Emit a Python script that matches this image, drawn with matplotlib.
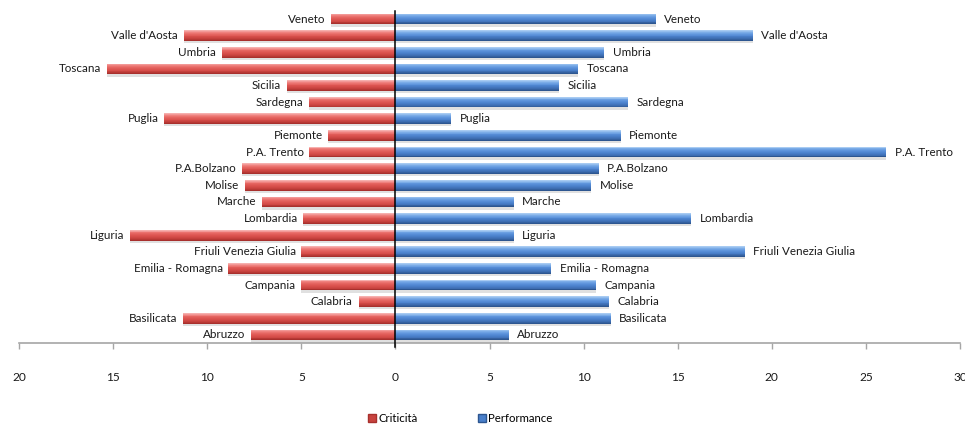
import matplotlib
matplotlib.use("Agg")
import matplotlib.pyplot as plt
import numpy as np
from matplotlib.patches import Patch
from matplotlib.colors import to_rgb

plt.rcParams['font.family'] = ['Lato', 'DejaVu Sans']

regions = ["Abruzzo", "Basilicata", "Calabria", "Campania", "Emilia - Romagna",
           "Friuli Venezia Giulia", "Liguria", "Lombardia", "Marche", "Molise",
           "P.A.Bolzano", "P.A. Trento", "Piemonte", "Puglia", "Sardegna",
           "Sicilia", "Toscana", "Umbria", "Valle d'Aosta", "Veneto"]
criticita = [7.66, 11.27, 1.96, 4.99, 8.88, 4.99, 14.09, 4.89, 7.07, 8.01,
             8.15, 4.57, 3.56, 12.28, 4.57, 5.76, 15.31, 9.22, 11.25, 3.40]
performance = [6.03, 11.45, 11.35, 10.66, 8.27, 18.55, 6.28, 15.73, 6.28, 10.4,
               10.8, 26.07, 11.97, 2.96, 12.35, 8.71, 9.7, 11.1, 19.0, 13.84]
xticks = [-20, -15, -10, -5, 0, 5, 10, 15, 20, 25, 30]
series_names = ["Criticità", "Performance"]

fig = plt.figure(figsize=(9.65, 4.28), dpi=100)
ax = fig.add_axes([19/965, 1-343.3/428, 941/965, (343.3-10.7)/428])

y = np.arange(len(regions))
h = 0.64
left_vals = -np.array(criticita)
right_vals = np.array(performance)

red_stops = ["#F6B0AE", "#EE7C79", "#E3605C", "#D9504C", "#C8433F", "#A8302D"]
blue_stops = ["#A8CBF2", "#77A9E6", "#5A91DA", "#4A80CB", "#3F6FB4", "#2D5690"]

def interp(stops, n):
    cols = np.array([to_rgb(c) for c in stops])
    pos = np.linspace(0, 1, len(stops))
    t = np.linspace(0, 1, n)
    return [tuple(np.interp(tt, pos, cols[:, k]) for k in range(3)) for tt in t]

N = 12
# soft shadows
ax.barh(y - 0.14, left_vals, height=h, color="#E0E0E0", zorder=1)
ax.barh(y - 0.14, right_vals, height=h, color="#E0E0E0", zorder=1)
for vals, stops in ((left_vals, red_stops), (right_vals, blue_stops)):
    cols = interp(stops, N)
    for k in range(N):
        bottom = y + h/2 - (k+1)*h/N
        ax.barh(bottom, vals, height=h/N + 0.005, align='edge',
                color=cols[k], linewidth=0, zorder=2)

for yi, c, p, name in zip(y, criticita, performance, regions):
    ax.text(-c - 0.3, yi, name, ha='right', va='center', fontsize=8.4, color='#1a1a1a')
    ax.text(p + 0.45, yi, name, ha='left', va='center', fontsize=8.4, color='#1a1a1a')

ax.axvline(0, ymin=-0.012, ymax=1, color='black', lw=1.1, zorder=4, clip_on=False)

ax.set_xlim(-20, 30)
ax.set_ylim(-0.5, 19.5)
ax.set_xticks(xticks)
ax.set_xticklabels([str(abs(t)) for t in xticks])
ax.set_yticks([])
for s in ("top", "right", "left"):
    ax.spines[s].set_visible(False)
ax.spines["bottom"].set_color("#A6A6A6")
ax.spines["bottom"].set_linewidth(1.2)
ax.tick_params(axis='x', direction='out', length=4, color='#A6A6A6', width=1,
               labelsize=8.6, pad=17, labelcolor='#1a1a1a')

handles = [Patch(facecolor="#C8433F", edgecolor="#A8302D", label=series_names[0]),
           Patch(facecolor="#4A80CB", edgecolor="#2D5690", label=series_names[1])]
fig.legend(handles=handles, loc='center', bbox_to_anchor=(460/965, 1-418/428),
           ncol=2, frameon=False, fontsize=8.2, handlelength=0.7, handleheight=0.7,
           handletextpad=0.2, columnspacing=5.3)

fig.savefig("out.png", dpi=100)
